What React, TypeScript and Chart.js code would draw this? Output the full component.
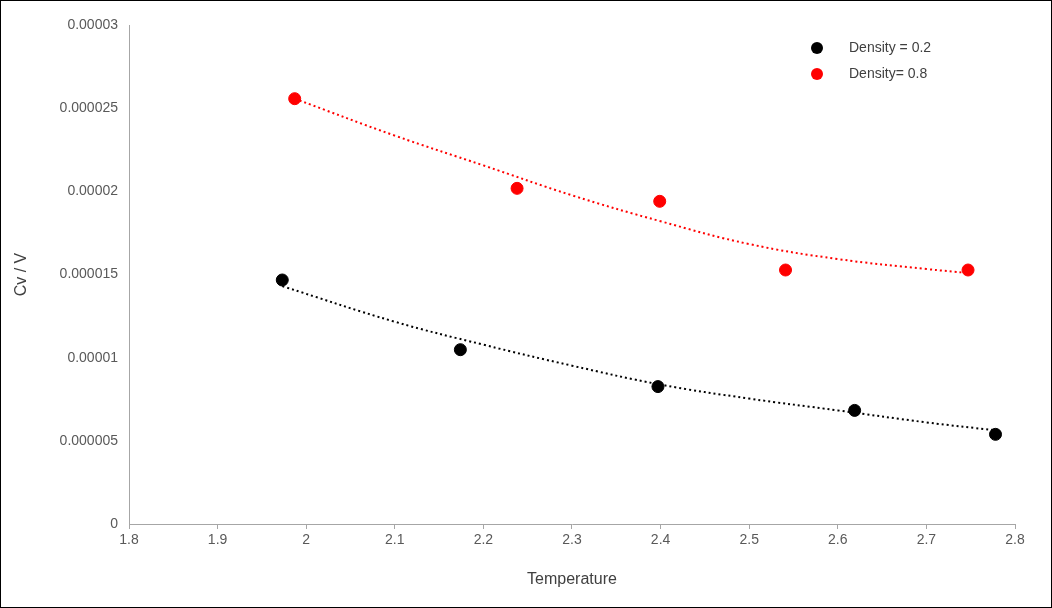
import React, { useEffect, useRef } from "react";
import { Chart, registerables } from "chart.js";
Chart.register(...registerables);

const blackX = [1.973, 2.174, 2.397, 2.619, 2.778];
const blackY = [1.467e-5, 1.048e-5, 0.826e-5, 0.683e-5, 0.539e-5];
const redX = [1.987, 2.238, 2.399, 2.541, 2.747];
const redY = [2.557e-5, 2.018e-5, 1.94e-5, 1.527e-5, 1.527e-5];
const blackTrendX = [1.973, 2.1, 2.2, 2.3, 2.4, 2.5, 2.6, 2.7, 2.778];
const blackTrendY = [1.43e-5, 1.216e-5, 1.078e-5, 0.952e-5, 0.838e-5, 0.754e-5, 0.683e-5, 0.611e-5, 0.563e-5];
const redTrendX = [1.987, 2.1, 2.2, 2.3, 2.4, 2.5, 2.6, 2.7, 2.747];
const redTrendY = [2.557e-5, 2.335e-5, 2.156e-5, 1.976e-5, 1.82e-5, 1.683e-5, 1.593e-5, 1.533e-5, 1.509e-5];
const legendLabels = ["Density = 0.2", "Density= 0.8"];

const pts = (xs: number[], ys: number[]) => xs.map((x, i) => ({ x, y: ys[i] }));
const FONT = "'Liberation Sans', Arial, sans-serif";

export default function App() {
  const ref = useRef<HTMLCanvasElement>(null);
  useEffect(() => {
    const legendPlugin = {
      id: "customLegend",
      afterDraw(chart: any) {
        const ctx = chart.ctx;
        const a = chart.chartArea;
        const colors = ["#000000", "#ff0000"];
        ctx.save();
        ctx.font = `14px ${FONT}`;
        ctx.textBaseline = "middle";
        legendLabels.forEach((l, i) => {
          const y = a.top + 23 + i * 26;
          ctx.fillStyle = colors[i];
          ctx.beginPath();
          ctx.arc(a.left + 688, y, 6, 0, Math.PI * 2);
          ctx.fill();
          ctx.fillStyle = "#404040";
          ctx.fillText(l, a.left + 720, y);
        });
        ctx.restore();
      },
    };
    const chart = new Chart(ref.current!, {
      type: "scatter",
      data: {
        datasets: [
          { data: pts(blackTrendX, blackTrendY), showLine: true, borderColor: "#000", borderDash: [2, 3], borderWidth: 2, pointRadius: 0, tension: 0.4 },
          { data: pts(redTrendX, redTrendY), showLine: true, borderColor: "#ff0000", borderDash: [2, 3], borderWidth: 2, pointRadius: 0, tension: 0.4 },
          { data: pts(blackX, blackY), backgroundColor: "#000", borderColor: "#000", pointRadius: 6 },
          { data: pts(redX, redY), backgroundColor: "#ff0000", borderColor: "#ff0000", pointRadius: 6 },
        ],
      },
      options: {
        animation: false,
        responsive: false,
        layout: { padding: { top: 24, right: 36, left: 7, bottom: 14 } },
        plugins: { legend: { display: false }, tooltip: { enabled: false } },
        scales: {
          x: {
            type: "linear", min: 1.8, max: 2.8,
            ticks: { stepSize: 0.1, color: "#595959", font: { family: FONT, size: 14 }, callback: (v: any) => Number(Number(v).toFixed(1)).toString() },
            grid: { drawOnChartArea: false, tickLength: 5, color: "#a6a6a6" },
            border: { color: "#a6a6a6" },
            title: { display: true, text: "Temperature", color: "#404040", font: { family: FONT, size: 16 } },
            afterFit: (s: any) => { s.height = 69; },
          },
          y: {
            min: 0, max: 0.00003,
            ticks: { stepSize: 0.000005, color: "#595959", font: { family: FONT, size: 14 }, callback: (v: any) => Number(Number(v).toPrecision(6)).toString() },
            grid: { display: false },
            border: { color: "#a6a6a6" },
            title: { display: true, text: "Cv / V", color: "#404040", font: { family: FONT, size: 16 } },
            afterFit: (s: any) => { s.width = 121; },
          },
        },
      },
      plugins: [legendPlugin],
    } as any);
    return () => chart.destroy();
  }, []);
  return (
    <div style={{ position: "absolute", left: 0, top: 0, width: 1052, height: 608, background: "#fff", boxSizing: "border-box", border: "1px solid #000" }}>
      <canvas ref={ref} width={1050} height={606} />
    </div>
  );
}
